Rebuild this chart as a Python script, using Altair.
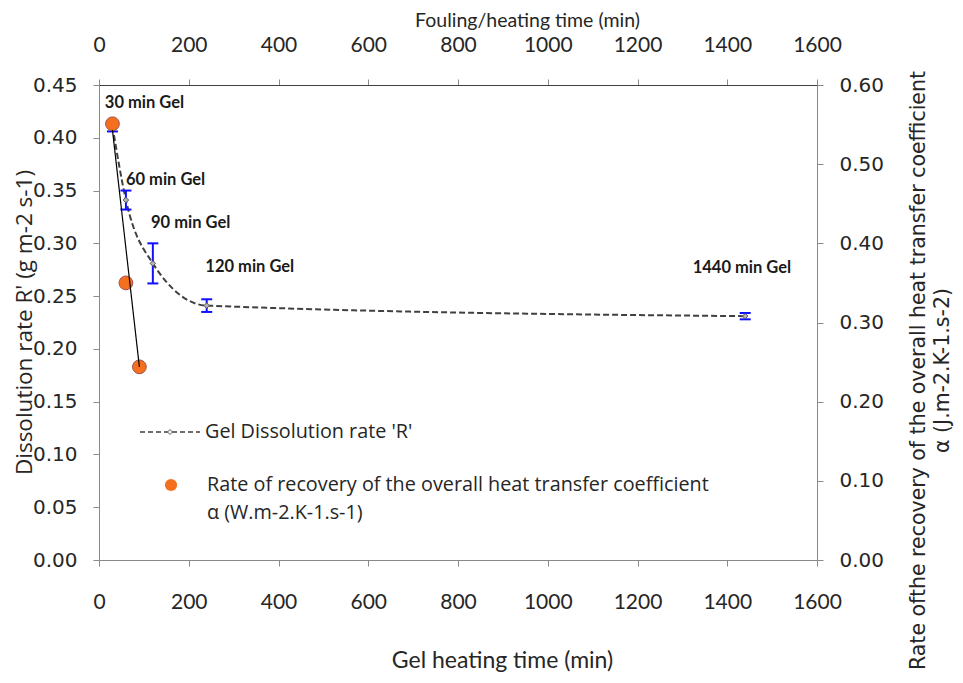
import altair as alt
import pandas as pd

# ---- data ----
time_R = [30, 60, 120, 240, 1440]
R_vals = [0.411, 0.341, 0.281, 0.241, 0.231]
R_err = [0.005, 0.009, 0.019, 0.006, 0.003]

time_alpha = [30, 60, 90]
alpha_vals = [0.551, 0.350, 0.244]

trend_time = [30, 90]
trend_alpha = [0.543, 0.244]

ann_text = ["30 min Gel", "60 min Gel", "90 min Gel", "120 min Gel", "1440 min Gel"]
ann_time = [13, 60, 116, 237, 1323]
ann_R = [0.4326, 0.360, 0.319, 0.278, 0.2766]

x_ticks = [0, 200, 400, 600, 800, 1000, 1200, 1400, 1600]
left_ticks = [0.0, 0.05, 0.10, 0.15, 0.20, 0.25, 0.30, 0.35, 0.40, 0.45]
right_ticks = [0.0, 0.1, 0.2, 0.3, 0.4, 0.5, 0.6]

legend_R = "Gel Dissolution rate 'R'"
legend_alpha = ["Rate of recovery of the overall heat transfer coefficient", "\u03b1 (W.m-2.K-1.s-1)"]

x_title_bottom = "Gel heating time (min)"
x_title_top = "Fouling/heating time (min)"
y_title_left = "Dissolution rate R' (g m-2 s-1)"
y_title_right = ["Rate ofthe recovery of  the overall heat transfer coefficient", "\u03b1 (J.m-2.K-1.s-2)"]

# ---- tables ----
dfR = pd.DataFrame({"t": time_R, "R": R_vals, "err": R_err})
dfA = pd.DataFrame({"t": time_alpha, "a": alpha_vals})
dfT = pd.DataFrame({"t": trend_time, "a": trend_alpha})
dfAnn = pd.DataFrame({"t": ann_time, "R": ann_R, "label": ann_text})

TXT = "#262626"
AX = "#8a8a8a"
BLUE = "#1010ff"

xs = alt.Scale(domain=[0, 1600], nice=False, zero=False)
ys_left = alt.Scale(domain=[0, 0.45], nice=False)
ys_right = alt.Scale(domain=[0, 0.6], nice=False)

bottom_axis = alt.Axis(
    orient="bottom", values=x_ticks, format="d", grid=False, labelFlush=False,
    labelFont="Lato", labelFontSize=21, labelColor=TXT, labelBaseline="middle",
    labelPadding=36, tickSize=6, tickColor=AX, domainColor=AX,
    title=x_title_bottom, titleFont="Lato", titleFontSize=23, titleFontWeight="normal",
    titleColor=TXT, titleX=403, titleY=100, titleBaseline="middle", titleAlign="center",
)
top_axis = alt.Axis(
    orient="top", values=x_ticks, format="d", grid=False, labelFlush=False,
    labelFont="Lato", labelFontSize=21, labelColor=TXT, labelBaseline="middle",
    labelPadding=34, tickSize=6, tickColor=AX, domainColor="#404040",
    title=x_title_top, titleFont="Lato", titleFontSize=19.5, titleFontWeight="normal",
    titleColor=TXT, titleX=428, titleY=-65, titleBaseline="middle", titleAlign="center",
)
left_axis = alt.Axis(
    orient="left", values=left_ticks, format=".2f", grid=False, labelFlush=False,
    labelFont="DejaVu Sans", labelFontSize=20, labelColor=TXT,
    labelPadding=16, tickSize=6, tickColor=AX, domainColor=AX,
    title=y_title_left, titleFont="Open Sans", titleFontSize=22.5, titleFontWeight="normal",
    titleColor=TXT, titleAngle=270, titleX=-75, titleY=237,
    titleBaseline="middle", titleAlign="center",
)
right_axis = alt.Axis(
    orient="right", values=right_ticks, format=".2f", grid=False, labelFlush=False,
    labelFont="DejaVu Sans", labelFontSize=20, labelColor=TXT,
    labelPadding=16, tickSize=6, tickColor=AX, domainColor=AX,
    title=y_title_right, titleFont="DejaVu Sans", titleFontSize=20.5, titleFontWeight="normal",
    titleColor=TXT, titleAngle=270, titleX=101, titleY=285, titleLineHeight=24,
    titleBaseline="middle", titleAlign="center",
)

# ---- left (R) group ----
baseR = alt.Chart(dfR)
r_line = baseR.mark_line(color="#404040", strokeDash=[6, 3], strokeWidth=2,
                         interpolate="monotone").encode(
    x=alt.X("t:Q", scale=xs, axis=bottom_axis),
    y=alt.Y("R:Q", scale=ys_left, axis=left_axis),
)
err_base = baseR.transform_calculate(lo="datum.R - datum.err", hi="datum.R + datum.err")
err_rule = err_base.mark_rule(color=BLUE, strokeWidth=2).encode(
    x=alt.X("t:Q", scale=xs), y=alt.Y("lo:Q", scale=ys_left), y2="hi:Q")
cap_lo = err_base.mark_tick(orient="horizontal", color=BLUE, size=11, thickness=2, opacity=1).encode(
    x=alt.X("t:Q", scale=xs), y=alt.Y("lo:Q", scale=ys_left))
cap_hi = err_base.mark_tick(orient="horizontal", color=BLUE, size=11, thickness=2, opacity=1).encode(
    x=alt.X("t:Q", scale=xs), y=alt.Y("hi:Q", scale=ys_left))
r_pts = baseR.mark_point(shape="diamond", filled=True, size=30, color="#b5b5b5",
                         stroke="#555555", strokeWidth=1, opacity=1).encode(
    x=alt.X("t:Q", scale=xs), y=alt.Y("R:Q", scale=ys_left))
ann = alt.Chart(dfAnn).mark_text(align="left", baseline="middle", font="Lato",
                                 fontSize=16.5, fontWeight="bold", color="#1a1a1a").encode(
    x=alt.X("t:Q", scale=xs), y=alt.Y("R:Q", scale=ys_left), text="label:N")

# custom legend (inside plot)
leg_df = pd.DataFrame({"label": [legend_R]})
leg_dash = alt.Chart(leg_df).mark_rule(color="#404040", strokeDash=[5, 3], strokeWidth=1.5).encode(
    x=alt.value(41), x2=alt.value(101), y=alt.value(347))
leg_diam = alt.Chart(leg_df).mark_point(shape="diamond", filled=True, size=25, color="#ffffff",
                                        stroke="#555555", strokeWidth=1, opacity=1).encode(
    x=alt.value(71), y=alt.value(347))
leg_txt1 = alt.Chart(leg_df).mark_text(align="left", baseline="middle", font="Open Sans",
                                       fontSize=19.8, color=TXT).encode(
    x=alt.value(106), y=alt.value(347), text="label:N")
leg2_df = pd.DataFrame({"label": [legend_alpha[0]]})
leg3_df = pd.DataFrame({"label": [legend_alpha[1]]})
leg_circ = alt.Chart(leg2_df).mark_circle(size=150, color="#f5701e", opacity=1).encode(
    x=alt.value(72), y=alt.value(400))
leg_txt2 = alt.Chart(leg2_df).mark_text(align="left", baseline="middle", font="Open Sans",
                                        fontSize=19.8, color=TXT).encode(
    x=alt.value(108), y=alt.value(400), text="label:N")
leg_txt3 = alt.Chart(leg3_df).mark_text(align="left", baseline="middle", font="Open Sans",
                                        fontSize=19.8, color=TXT).encode(
    x=alt.value(108), y=alt.value(428), text="label:N")

left_group = alt.layer(r_line, err_rule, cap_lo, cap_hi, r_pts, ann,
                       leg_dash, leg_diam, leg_txt1, leg_circ, leg_txt2, leg_txt3)

# ---- right (alpha) group ----
a_pts = alt.Chart(dfA).mark_circle(size=190, color="#f5701e", stroke="#a0504a",
                                   strokeWidth=1, opacity=1).encode(
    x=alt.X("t:Q", scale=xs, axis=top_axis),
    y=alt.Y("a:Q", scale=ys_right, axis=right_axis),
)
a_trend = alt.Chart(dfT).mark_line(color="#000000", strokeWidth=1.2).encode(
    x=alt.X("t:Q", scale=xs), y=alt.Y("a:Q", scale=ys_right))
right_group = alt.layer(a_pts, a_trend)

chart = alt.layer(left_group, right_group).resolve_scale(y="independent").resolve_axis(
    x="independent", y="independent"
).properties(
    width=718, height=475,
    autosize=alt.AutoSizeParams(type="none"),
    padding={"left": 91, "top": 77, "right": 138, "bottom": 115},
    background="white",
).configure_view(stroke=None)

chart.save("out.html", embed_options={"renderer": "svg", "actions": False})
